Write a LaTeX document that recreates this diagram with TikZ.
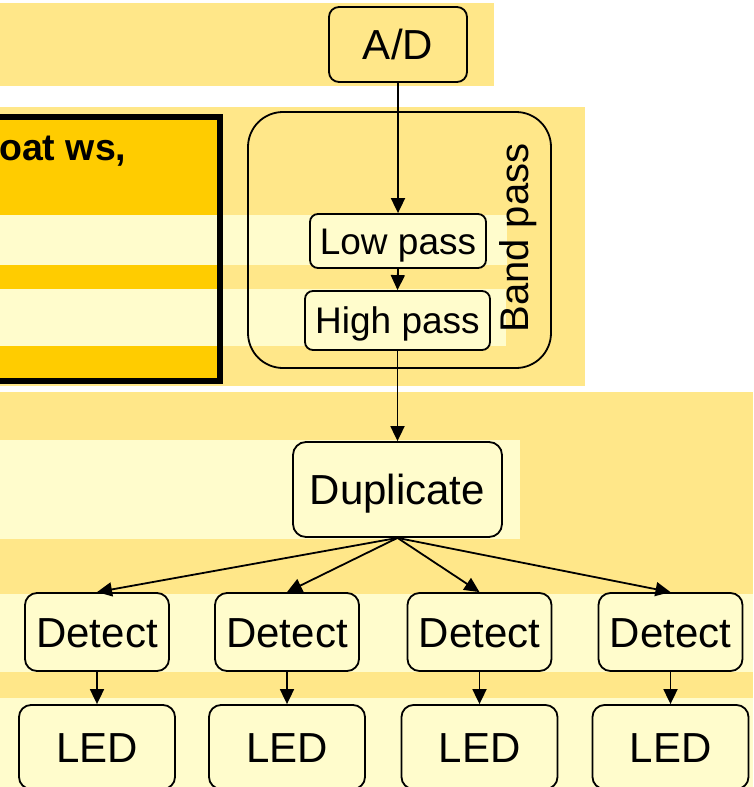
\documentclass[tikz,border=0pt]{standalone}
\usepackage{fontspec}
\setmainfont{Liberation Sans}
\usetikzlibrary{arrows.meta}
\definecolor{bandc}{RGB}{255,231,137}
\definecolor{paler}{RGB}{255,252,204}
\definecolor{tablec}{RGB}{255,204,0}
\tikzset{
  blk/.style={draw=black, line width=1.8pt, fill=paler, inner sep=0pt,
    text depth=0pt},
  bigtext/.style={font=\fontsize{42}{48}\selectfont, text height=30pt},
  midtext/.style={font=\fontsize{37}{42}\selectfont, text height=26.5pt},
  flow/.style={line width=1.8pt, -{Triangle[length=15pt,width=14pt]}},
}
\begin{document}
\begin{tikzpicture}[x=1pt,y=-1pt]
  \useasboundingbox (0,0) rectangle (753,787);
  \fill[white] (0,0) rectangle (753,787);

  % background bands
  \fill[bandc] (0,3) rectangle (494,86);
  \fill[bandc] (0,107) rectangle (585,386);
  \fill[bandc] (0,392) rectangle (753,594);
  \fill[paler] (0,440) rectangle (520,539);
  \fill[paler] (0,594) rectangle (753,672);
  \fill[bandc] (0,672) rectangle (753,698);
  \fill[paler] (0,698) rectangle (753,787);

  % table on the left
  \fill[tablec] (-10,117) rectangle (220,380.5);
  \fill[paler] (-10,215) rectangle (507,265);
  \fill[paler] (-10,289) rectangle (506,346);
  \draw[line width=6pt] (-10,117) rectangle (220,380.5);
  \node[anchor=base west, inner sep=0pt, font=\fontsize{37.5}{42}\selectfont\bfseries]
    (hdr) at (-1,160) {oat ws,};

  % band pass group
  \draw[line width=1.8pt, rounded corners=35pt] (248,112) rectangle (551,368);
  \node[rotate=90, inner sep=0pt, font=\fontsize{40}{46}\selectfont,
    text height=28.6pt, text depth=0pt] (bp) at (514,238) {Band pass};

  % blocks
  \node[blk, bigtext, fill=bandc, rounded corners=10pt,
    minimum width=138pt, minimum height=75pt] (ad) at (398,44.5) {A/D};
  \node[blk, midtext, rounded corners=8pt,
    minimum width=176pt, minimum height=54pt] (lowp) at (398,241) {Low pass};
  \node[blk, midtext, rounded corners=8pt,
    minimum width=185pt, minimum height=59pt] (highp) at (397.5,320.5) {High pass};
  \node[blk, bigtext, rounded corners=13pt,
    minimum width=209pt, minimum height=95pt] (dup) at (397.5,489.5) {Duplicate};

  \foreach \i/\x in {1/97,2/287,3/479.5,4/670.5}{
    \node[blk, bigtext, rounded corners=12pt,
      minimum width=144pt, minimum height=78pt] (det\i) at (\x,632) {Detect};
    \node[blk, bigtext, rounded corners=12pt,
      minimum width=156pt, minimum height=84pt] (led\i) at (\x,747) {LED};
  }

  % connectors
  \draw[flow] (ad.south) -- (lowp.north);
  \draw[flow] (lowp.south) -- (highp.north);
  \draw[flow] (highp.south) -- (dup.north);
  \foreach \i in {1,2,3,4}{
    \draw[flow] (dup.south) -- (det\i.north);
    \draw[flow] (det\i.south) -- (led\i.north);
  }
\end{tikzpicture}
\end{document}
